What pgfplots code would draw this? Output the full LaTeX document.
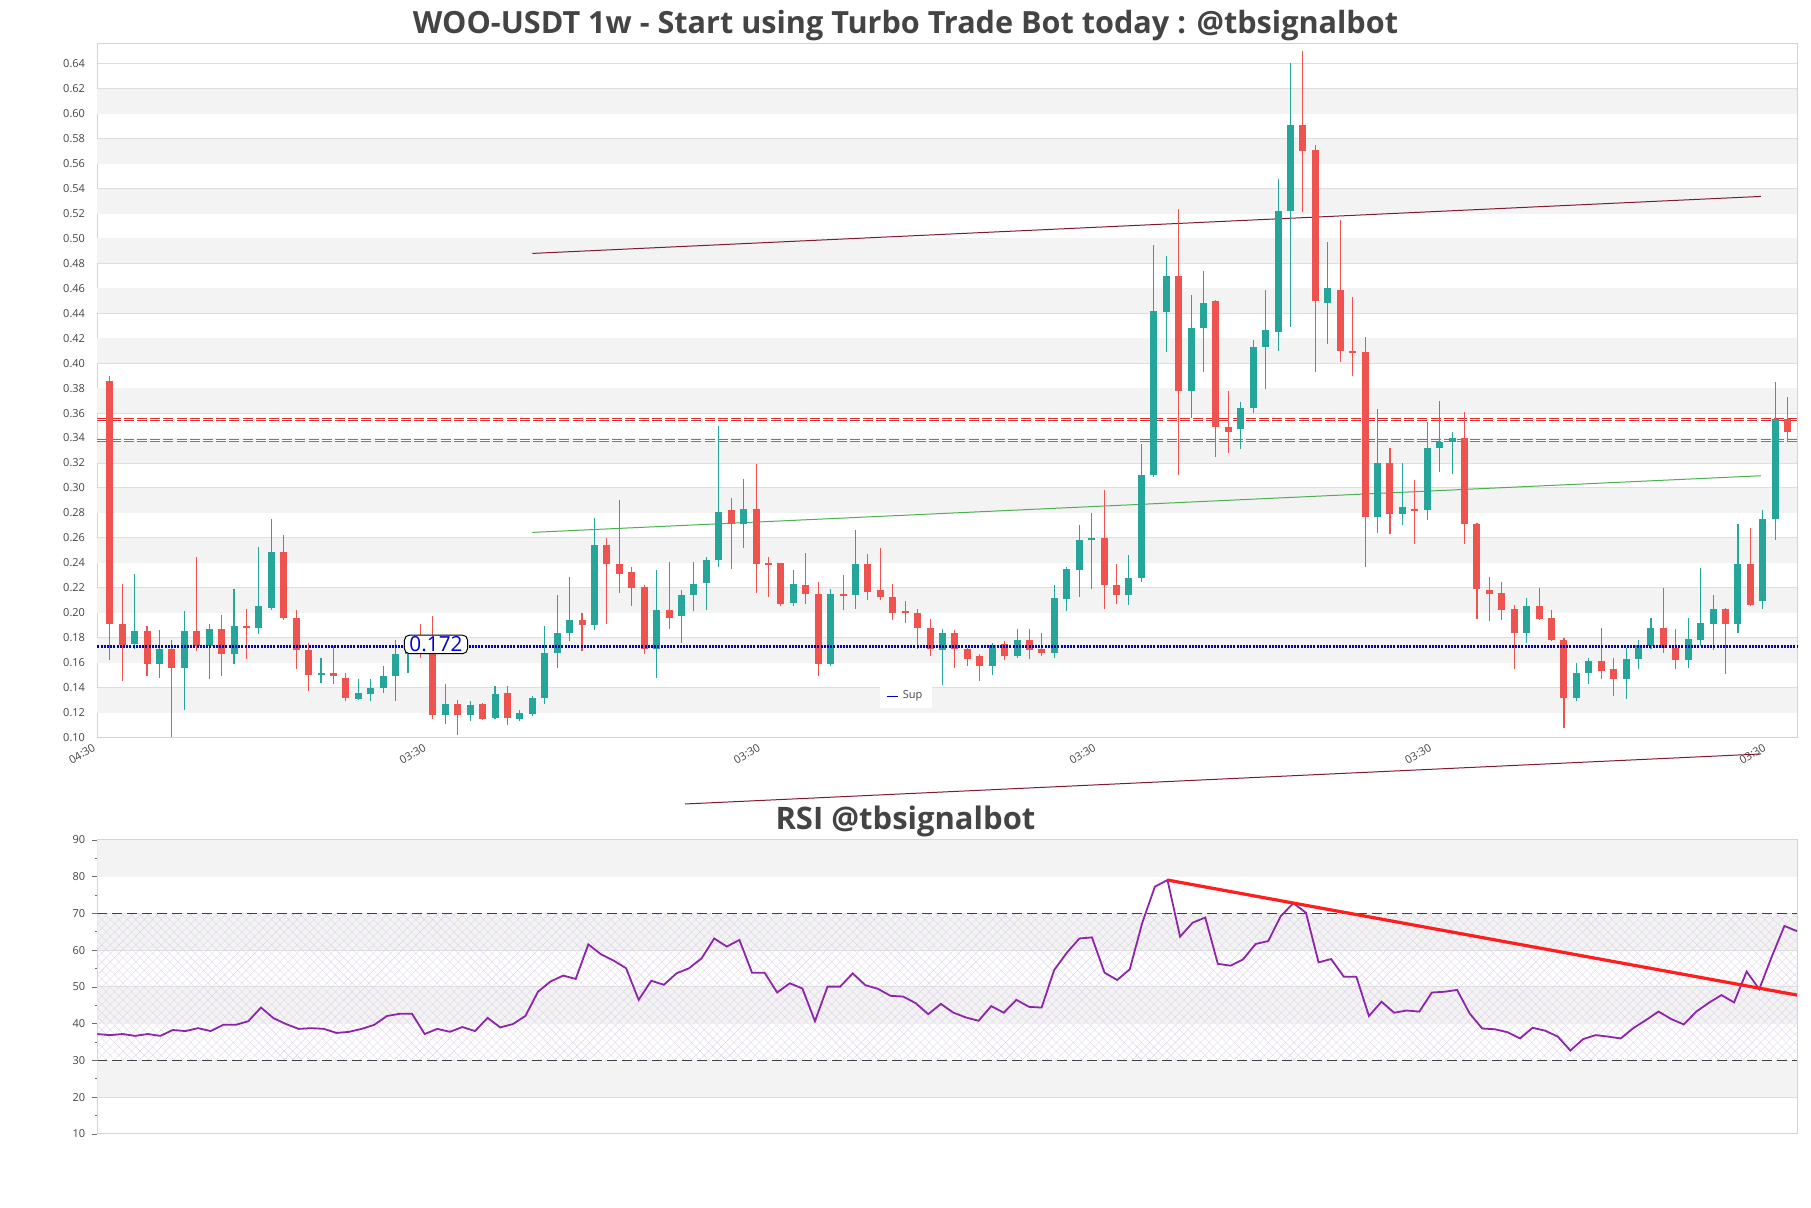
\documentclass[border=0pt]{standalone}
\usepackage{pgfplots}
\pgfplotsset{compat=1.18}
\usepackage{pgfplotstable}
\usepackage{fontspec}
\setmainfont{Open Sans}
\usetikzlibrary{patterns.meta}

\definecolor{upc}{RGB}{38,166,154}
\definecolor{downc}{RGB}{239,83,80}
\definecolor{bandc}{RGB}{243,243,243}
\definecolor{gridc}{RGB}{222,222,222}
\definecolor{framec}{RGB}{212,212,212}
\definecolor{textc}{RGB}{68,68,68}
\definecolor{tickc}{RGB}{110,110,110}
\definecolor{supc}{RGB}{0,0,204}
\definecolor{resl}{RGB}{225,45,45}
\definecolor{cyanl}{RGB}{25,150,220}
\definecolor{maroonl}{RGB}{128,26,48}
\definecolor{greenl}{RGB}{76,175,80}
\definecolor{rsic}{RGB}{142,36,170}
\definecolor{trendc}{RGB}{255,30,30}
\definecolor{hatchc}{RGB}{222,212,232}

\newcommand{\tickfont}{\fontsize{5.5}{6.5}\selectfont}

% weekly candles, index i = week
\pgfplotstableread{
i o h l c
2 0.175 0.231 0.171 0.185
4 0.159 0.186 0.148 0.171
6 0.156 0.201 0.122 0.185
8 0.173 0.191 0.147 0.187
10 0.167 0.219 0.159 0.189
12 0.188 0.253 0.183 0.205
13 0.204 0.275 0.202 0.249
17 0.150 0.164 0.144 0.152
20 0.131 0.147 0.130 0.136
21 0.135 0.147 0.129 0.140
22 0.140 0.157 0.136 0.149
23 0.149 0.178 0.129 0.167
24 0.167 0.180 0.152 0.172
27 0.118 0.143 0.111 0.127
29 0.118 0.129 0.113 0.126
31 0.116 0.141 0.115 0.135
33 0.115 0.122 0.113 0.120
34 0.119 0.133 0.117 0.132
35 0.132 0.189 0.127 0.168
36 0.168 0.214 0.156 0.184
37 0.184 0.229 0.177 0.194
39 0.190 0.276 0.186 0.254
44 0.171 0.234 0.148 0.202
46 0.197 0.218 0.176 0.214
47 0.214 0.241 0.201 0.223
48 0.224 0.245 0.202 0.242
49 0.242 0.350 0.237 0.281
51 0.271 0.307 0.252 0.283
55 0.208 0.234 0.205 0.223
58 0.159 0.219 0.157 0.215
60 0.214 0.266 0.203 0.239
67 0.170 0.187 0.142 0.184
71 0.157 0.176 0.150 0.174
73 0.165 0.187 0.164 0.178
76 0.168 0.222 0.164 0.212
77 0.211 0.237 0.201 0.235
78 0.234 0.270 0.213 0.258
79 0.258 0.280 0.219 0.260
82 0.214 0.246 0.206 0.228
83 0.228 0.335 0.225 0.310
84 0.310 0.495 0.309 0.442
85 0.441 0.486 0.409 0.470
87 0.378 0.455 0.356 0.428
88 0.428 0.474 0.393 0.448
91 0.347 0.369 0.331 0.364
92 0.364 0.419 0.360 0.413
93 0.413 0.459 0.379 0.427
94 0.425 0.548 0.410 0.522
95 0.522 0.641 0.429 0.591
98 0.448 0.497 0.415 0.460
102 0.277 0.363 0.264 0.320
104 0.279 0.320 0.270 0.285
106 0.282 0.353 0.274 0.332
107 0.332 0.370 0.313 0.337
108 0.337 0.345 0.311 0.340
114 0.184 0.212 0.176 0.205
118 0.132 0.160 0.129 0.152
119 0.152 0.164 0.143 0.161
122 0.147 0.172 0.131 0.163
123 0.163 0.178 0.155 0.174
124 0.173 0.196 0.171 0.188
127 0.162 0.196 0.156 0.179
128 0.178 0.236 0.173 0.192
129 0.191 0.214 0.170 0.203
131 0.191 0.271 0.184 0.239
133 0.209 0.282 0.203 0.275
134 0.275 0.385 0.258 0.355
}\upcandles

\pgfplotstableread{
i o h l c
0 0.386 0.390 0.162 0.191
1 0.191 0.223 0.145 0.174
3 0.185 0.189 0.149 0.159
5 0.171 0.178 0.100 0.156
7 0.185 0.245 0.169 0.173
9 0.187 0.198 0.149 0.167
11 0.1890 0.203 0.163 0.1875
14 0.249 0.262 0.194 0.196
15 0.196 0.202 0.155 0.170
16 0.170 0.176 0.137 0.150
18 0.1515 0.173 0.143 0.1490
19 0.148 0.152 0.129 0.132
25 0.176 0.191 0.164 0.172
26 0.174 0.197 0.115 0.118
28 0.127 0.130 0.102 0.118
30 0.127 0.128 0.114 0.115
32 0.136 0.141 0.110 0.116
38 0.194 0.200 0.169 0.190
40 0.254 0.260 0.191 0.239
41 0.239 0.290 0.216 0.231
42 0.233 0.237 0.205 0.220
43 0.221 0.222 0.167 0.171
45 0.202 0.241 0.187 0.196
50 0.282 0.292 0.235 0.271
52 0.283 0.319 0.216 0.239
53 0.2400 0.245 0.213 0.2385
54 0.240 0.240 0.205 0.207
56 0.222 0.248 0.207 0.215
57 0.215 0.225 0.149 0.159
59 0.2150 0.230 0.202 0.2135
61 0.239 0.247 0.210 0.217
62 0.218 0.252 0.210 0.213
63 0.213 0.223 0.194 0.200
64 0.2010 0.209 0.192 0.1995
65 0.200 0.203 0.171 0.188
66 0.188 0.195 0.165 0.171
68 0.184 0.186 0.156 0.171
69 0.171 0.172 0.157 0.163
70 0.165 0.167 0.145 0.157
72 0.175 0.177 0.162 0.165
74 0.178 0.187 0.163 0.170
75 0.171 0.184 0.165 0.168
80 0.260 0.298 0.203 0.222
81 0.222 0.239 0.207 0.214
86 0.470 0.524 0.310 0.378
89 0.450 0.451 0.325 0.349
90 0.349 0.378 0.328 0.345
96 0.591 0.650 0.521 0.570
97 0.571 0.575 0.393 0.450
99 0.459 0.515 0.401 0.410
100 0.4100 0.453 0.390 0.4085
101 0.409 0.421 0.237 0.277
103 0.320 0.332 0.263 0.279
105 0.2830 0.306 0.255 0.2815
109 0.340 0.361 0.255 0.271
110 0.271 0.272 0.195 0.219
111 0.218 0.229 0.193 0.215
112 0.216 0.225 0.194 0.202
113 0.203 0.206 0.155 0.184
115 0.205 0.220 0.194 0.195
116 0.196 0.202 0.177 0.178
117 0.178 0.180 0.108 0.132
120 0.161 0.188 0.147 0.153
121 0.155 0.164 0.133 0.147
125 0.188 0.220 0.168 0.172
126 0.172 0.187 0.155 0.162
130 0.203 0.204 0.151 0.191
132 0.239 0.268 0.205 0.206
135 0.355 0.373 0.338 0.345
}\downcandles

\begin{document}
\begin{tikzpicture}

\node[anchor=base, font=\bfseries\fontsize{15.3}{18}\selectfont, text=textc]
  at (452.75pt,587.25pt) {WOO-USDT 1w - Start using Turbo Trade Bot today : @tbsignalbot};

% ---------------- price panel
\begin{axis}[
  set layers, clip=false,
  at={(48.65pt,235.25pt)}, anchor=south west,
  scale only axis, width=849.85pt, height=346.95pt,
  xmin=-1, xmax=135.75, ymin=0.10, ymax=0.6562,
  axis line style={draw=framec, line width=0.5pt},
  ymajorgrids, grid style={draw=gridc, line width=0.5pt},
  xtick={-1,25.6,52.5,79.5,106.5,133.4},
  xticklabels={04:30,03:30,03:30,03:30,03:30,03:30},
  ytick={0.10,0.12,0.14,0.16,0.18,0.20,0.22,0.24,0.26,0.28,0.30,0.32,0.34,0.36,0.38,0.40,0.42,0.44,0.46,0.48,0.50,0.52,0.54,0.56,0.58,0.60,0.62,0.64},
  /pgf/number format/assume math mode=true,
  yticklabel style={/pgf/number format/fixed, /pgf/number format/fixed zerofill,
    /pgf/number format/precision=2, xshift=-2.6pt},
  tick label style={font=\tickfont, text=textc},
  xticklabel style={rotate=30, anchor=north east, inner sep=1pt, xshift=-2.5pt},
  major tick length=0pt, ytick pos=left, xtick pos=bottom,
  legend style={at={(0.4759,0.0592)}, anchor=center, draw=none, fill=white,
    font=\tickfont, text=textc, inner xsep=3pt, inner ysep=1.2pt},
]
\fill[bandc, on layer=axis background] (axis cs:-1,0.12) rectangle (axis cs:135.75,0.14);
\fill[bandc, on layer=axis background] (axis cs:-1,0.16) rectangle (axis cs:135.75,0.18);
\fill[bandc, on layer=axis background] (axis cs:-1,0.20) rectangle (axis cs:135.75,0.22);
\fill[bandc, on layer=axis background] (axis cs:-1,0.24) rectangle (axis cs:135.75,0.26);
\fill[bandc, on layer=axis background] (axis cs:-1,0.28) rectangle (axis cs:135.75,0.30);
\fill[bandc, on layer=axis background] (axis cs:-1,0.32) rectangle (axis cs:135.75,0.34);
\fill[bandc, on layer=axis background] (axis cs:-1,0.36) rectangle (axis cs:135.75,0.38);
\fill[bandc, on layer=axis background] (axis cs:-1,0.40) rectangle (axis cs:135.75,0.42);
\fill[bandc, on layer=axis background] (axis cs:-1,0.44) rectangle (axis cs:135.75,0.46);
\fill[bandc, on layer=axis background] (axis cs:-1,0.48) rectangle (axis cs:135.75,0.50);
\fill[bandc, on layer=axis background] (axis cs:-1,0.52) rectangle (axis cs:135.75,0.54);
\fill[bandc, on layer=axis background] (axis cs:-1,0.56) rectangle (axis cs:135.75,0.58);
\fill[bandc, on layer=axis background] (axis cs:-1,0.60) rectangle (axis cs:135.75,0.62);

% channel lines
\addplot[maroonl, line width=0.5pt, forget plot] coordinates {(34,0.488) (132.85,0.5337)};
\addplot[greenl, line width=0.5pt, forget plot] coordinates {(34,0.2644) (132.85,0.3098)};
\addplot[maroonl, line width=0.5pt, forget plot] coordinates {(46.3,0.0467) (132.85,0.0868)};

% levels
\addplot[resl, line width=0.45pt, double=white, double distance=0.5pt,
  dash pattern=on 5pt off 1.6pt, forget plot] coordinates {(-1,0.3552) (135.75,0.3552)};
\addplot[cyanl, line width=0.45pt, double=white, double distance=0.5pt,
  dash pattern=on 5pt off 1.6pt, forget plot] coordinates {(-1,0.3381) (135.75,0.3381)};

% candles: wicks, then bodies
\addplot[forget plot, draw=none, mark=none,
  error bars/.cd, y dir=plus, y explicit, error mark=none,
  error bar style={draw=upc, line width=0.55pt}]
  table[x=i, y=l, y error plus expr=\thisrow{h}-\thisrow{l}] {\upcandles};
\addplot[forget plot, draw=none, mark=none,
  error bars/.cd, y dir=plus, y explicit, error mark=none,
  error bar style={draw=downc, line width=0.55pt}]
  table[x=i, y=l, y error plus expr=\thisrow{h}-\thisrow{l}] {\downcandles};
\addplot[forget plot, draw=none, mark=none,
  error bars/.cd, y dir=plus, y explicit, error mark=none,
  error bar style={draw=upc, line width=3.5pt}]
  table[x=i, y=o, y error plus expr=\thisrow{c}-\thisrow{o}] {\upcandles};
\addplot[forget plot, draw=none, mark=none,
  error bars/.cd, y dir=plus, y explicit, error mark=none,
  error bar style={draw=downc, line width=3.5pt}]
  table[x=i, y=c, y error plus expr=\thisrow{o}-\thisrow{c}] {\downcandles};

\addplot[supc, line width=1.5pt, dash pattern=on 1pt off 0.6pt,
  legend image code/.code={\draw[supc, solid, line width=0.9pt] (0pt,0pt) -- (5.5pt,0pt);}]
  coordinates {(-1,0.1726) (135.75,0.1726)};
\addlegendentry{Sup}

\node[draw=black, line width=0.5pt, rounded corners=2.5pt, fill=white, text=supc,
  font=\fontsize{10.4}{11}\selectfont, inner xsep=2.5pt, inner ysep=0.8pt]
  at (axis cs:26.25,0.1746) {0.172};
\end{axis}

\node[anchor=base, font=\bfseries\fontsize{15.5}{18}\selectfont, text=textc]
  at (452.75pt,189.35pt) {RSI @tbsignalbot};

% ---------------- RSI panel
\begin{axis}[
  set layers,
  at={(48.65pt,37pt)}, anchor=south west,
  scale only axis, width=849.85pt, height=147pt,
  xmin=0, xmax=135, ymin=10, ymax=90,
  axis line style={draw=framec, line width=0.5pt},
  ymajorgrids, grid style={draw=gridc, line width=0.5pt},
  xtick=\empty,
  ytick={10,20,30,40,50,60,70,80,90},
  minor ytick={15,25,35,45,55,65,75,85},
  ytick pos=left, tick align=outside,
  major tick length=2.5pt, minor tick length=1.4pt,
  tick style={draw=tickc, line width=0.4pt},
  /pgf/number format/assume math mode=true,
  tick label style={font=\tickfont, text=textc},
]
\fill[bandc, on layer=axis background] (axis cs:0,20) rectangle (axis cs:135,30);
\fill[bandc, on layer=axis background] (axis cs:0,40) rectangle (axis cs:135,50);
\fill[bandc, on layer=axis background] (axis cs:0,60) rectangle (axis cs:135,70);
\fill[bandc, on layer=axis background] (axis cs:0,80) rectangle (axis cs:135,90);
\fill[on layer=axis background, pattern={Lines[angle=45,distance=3pt,line width=0.2pt]},
  pattern color=hatchc] (axis cs:0,30) rectangle (axis cs:135,70);
\fill[on layer=axis background, pattern={Lines[angle=-45,distance=3pt,line width=0.2pt]},
  pattern color=hatchc] (axis cs:0,30) rectangle (axis cs:135,70);

\addplot[black!75, line width=0.5pt, dash pattern=on 5pt off 2.5pt] coordinates {(0,70) (135,70)};
\addplot[black!75, line width=0.5pt, dash pattern=on 5pt off 2.5pt] coordinates {(0,30) (135,30)};

\addplot[rsic, line width=0.9pt] coordinates {
(0,37.2) (1,36.9) (2,37.2) (3,36.7) (4,37.2) (5,36.7) (6,38.3) (7,38.0) (8,38.8) (9,38.0)
(10,39.7) (11,39.7) (12,40.7) (13,44.4) (14,41.5) (15,39.9) (16,38.6) (17,38.8) (18,38.6) (19,37.5)
(20,37.8) (21,38.6) (22,39.7) (23,42.1) (24,42.7) (25,42.7) (26,37.2) (27,38.6) (28,37.8) (29,39.1)
(30,38.0) (31,41.6) (32,39.0) (33,39.9) (34,42.1) (35,48.7) (36,51.5) (37,53.1) (38,52.2) (39,61.6)
(40,58.9) (41,57.2) (42,55.1) (43,46.5) (44,51.7) (45,50.6) (46,53.7) (47,55.1) (48,57.8) (49,63.2)
(50,61.0) (51,62.8) (52,53.9) (53,53.9) (54,48.5) (55,51.0) (56,49.6) (57,40.7) (58,50.1) (59,50.1)
(60,53.7) (61,50.5) (62,49.5) (63,47.6) (64,47.4) (65,45.6) (66,42.6) (67,45.4) (68,43.0) (69,41.7)
(70,40.8) (71,44.8) (72,43.0) (73,46.5) (74,44.6) (75,44.4) (76,54.6) (77,59.3) (78,63.2) (79,63.5)
(80,53.9) (81,51.9) (82,54.8) (83,67.5) (84,77.3) (85,79.1) (86,63.7) (87,67.5) (88,68.9) (89,56.3)
(90,55.8) (91,57.5) (92,61.7) (93,62.5) (94,69.3) (95,72.8) (96,70.2) (97,56.7) (98,57.6) (99,52.8)
(100,52.8) (101,42.1) (102,46.0) (103,43.0) (104,43.6) (105,43.3) (106,48.5) (107,48.7) (108,49.2) (109,42.8)
(110,38.7) (111,38.5) (112,37.7) (113,36.0) (114,38.9) (115,38.1) (116,36.5) (117,32.7) (118,35.8) (119,36.9)
(120,36.5) (121,36.0) (122,38.8) (123,41.0) (124,43.3) (125,41.3) (126,39.8) (127,43.3) (128,45.7) (129,47.8)
(130,45.8) (131,54.2) (132,49.4) (133,58.3) (134,66.6) (135,65.2)
};
\addplot[trendc, line width=1.6pt] coordinates {(85,79.1) (135,47.8)};
\end{axis}

\pgfresetboundingbox
\path[use as bounding box] (0,0) rectangle (905.5pt,604pt);
\end{tikzpicture}
\end{document}
